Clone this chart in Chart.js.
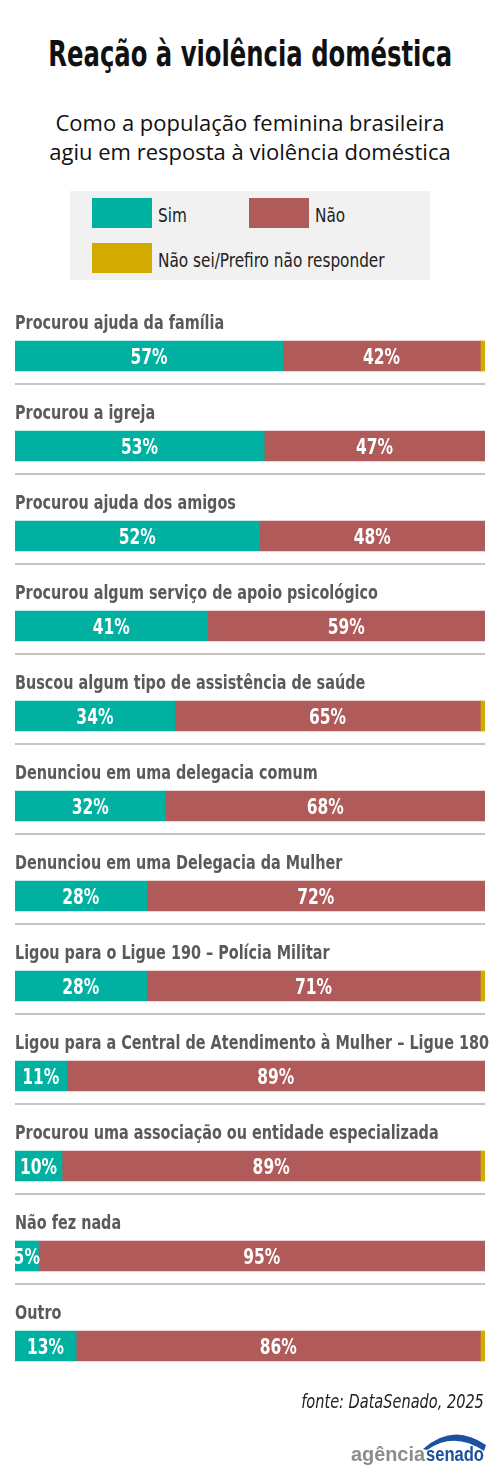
<!DOCTYPE html>
<html>
<head>
<meta charset="utf-8">
<script src="https://cdn.jsdelivr.net/npm/chart.js@4/dist/chart.umd.min.js"></script>
<style>
  html, body { margin: 0; padding: 0; background: #fff; }
  body { width: 500px; height: 1481px; position: relative; overflow: hidden; }
  .cond { font-family: "DejaVu Sans Condensed", sans-serif; white-space: nowrap; }
  .sq { display: inline-block; }
  #title { position: absolute; top: 36px; left: -100px; width: 700px; text-align: center;
    font-size: 36px; line-height: 36px; font-weight: bold; color: #111; }
  #title .sq { transform: scaleX(0.75); transform-origin: center; }
  #subtitle { position: absolute; top: 108px; left: 0; width: 500px; text-align: center;
    font-family: "Open Sans", sans-serif; font-size: 22px; line-height: 29px; color: #111; }
  #legend { position: absolute; top: 191px; left: 70px; width: 360px; height: 89px; background: #f1f1f1; }
  .sw { position: absolute; width: 60px; height: 30px; }
  .lt { position: absolute; font-size: 20px; line-height: 20px; color: #222; transform: scaleX(0.85); transform-origin: left; }
  #wrap { position: absolute; top: 300px; left: 0; width: 500px; height: 1100px; }
  #source { position: absolute; top: 1392px; right: 16px; font-size: 19px; line-height: 19px; font-style: italic; color: #222;
    transform: scaleX(0.85); transform-origin: right; }
  #logo { position: absolute; top: 1430px; left: 340px; width: 150px; height: 40px; }
</style>
</head>
<body>
<div id="title" class="cond"><span class="sq">Reação à violência doméstica</span></div>
<div id="subtitle">Como a população feminina brasileira<br>agiu em resposta à violência doméstica</div>
<div id="legend">
  <div class="sw" style="left:22px;top:7px;background:#00b1a2"></div>
  <div class="lt cond" style="left:88px;top:14px">Sim</div>
  <div class="sw" style="left:179px;top:7px;background:#b05a5a"></div>
  <div class="lt cond" style="left:245px;top:14px">Não</div>
  <div class="sw" style="left:22px;top:52px;background:#d2aa00"></div>
  <div class="lt cond" style="left:88px;top:59px">Não sei/Prefiro não responder</div>
</div>
<div id="wrap"><canvas id="barChart"></canvas></div>
<div id="source" class="cond">fonte: DataSenado, 2025</div>
<svg id="logo" viewBox="0 0 150 40">
  <path d="M83 19 Q113 -8 146 15 L144 21 Q114 1 87 20 Z" fill="#1e50a0"/>
  <text x="11" y="31" font-family="Liberation Sans, sans-serif" font-weight="bold" font-size="21" fill="#8c8c8c"
    textLength="74" lengthAdjust="spacingAndGlyphs">agência</text>
  <text x="86" y="31" font-family="Liberation Sans, sans-serif" font-weight="bold" font-size="21" fill="#1e50a0"
    textLength="58" lengthAdjust="spacingAndGlyphs">senado</text>
</svg>
<script>
const categories = [
  'Procurou ajuda da família',
  'Procurou a igreja',
  'Procurou ajuda dos amigos',
  'Procurou algum serviço de apoio psicológico',
  'Buscou algum tipo de assistência de saúde',
  'Denunciou em uma delegacia comum',
  'Denunciou em uma Delegacia da Mulher',
  'Ligou para o Ligue 190 – Polícia Militar',
  'Ligou para a Central de Atendimento à Mulher – Ligue 180',
  'Procurou uma associação ou entidade especializada',
  'Não fez nada',
  'Outro'
]
const sim = [57, 53, 52, 41, 34, 32, 28, 28, 11, 10, 5, 13]
const nao = [42, 47, 48, 59, 65, 68, 72, 71, 89, 89, 95, 86]
const naoSei = [1, 0, 0, 0, 1, 0, 0, 1, 0, 1, 0, 1]

const condFont = '"DejaVu Sans Condensed", sans-serif'

// squeezed text, the original uses a condensed face we don't have
function squeezeText(ctx, text, x, y, sx) {
  ctx.save()
  ctx.translate(x, y)
  ctx.scale(sx, 1)
  ctx.fillText(text, 0, 0)
  ctx.restore()
}

// category names above the bars, separators below, values inside
const rowLabels = {
  id: 'rowLabels',
  afterDatasetsDraw(chart) {
    const ctx = chart.ctx
    const area = chart.chartArea
    const meta0 = chart.getDatasetMeta(0)
    ctx.save()
    meta0.data.forEach((bar, i) => {
      ctx.fillStyle = '#5a5a5a'
      ctx.font = 'bold 19px ' + condFont
      ctx.textAlign = 'left'
      ctx.textBaseline = 'alphabetic'
      squeezeText(ctx, chart.data.labels[i], area.left, bar.y - 27, 0.843)
      if (i < meta0.data.length - 1) {
        ctx.fillStyle = '#c4c4c4'
        ctx.fillRect(area.left, bar.y + 27, area.right - area.left, 2)
      }
    })
    ctx.fillStyle = '#fff'
    ctx.font = 'bold 21px ' + condFont
    ctx.textAlign = 'center'
    ctx.textBaseline = 'alphabetic'
    for (let d = 0; d < 2; d++) {
      const ds = chart.data.datasets[d]
      chart.getDatasetMeta(d).data.forEach((bar, i) => {
        squeezeText(ctx, ds.data[i] + '%', (bar.x + bar.base) / 2, bar.y + 8, 0.82)
      })
    }
    ctx.restore()
  }
}

let chartobj = document.getElementById('barChart')
let barChart = new Chart(chartobj, {
  type: 'bar',
  data: {
    labels: categories,
    datasets: [{
      label: 'Sim',
      data: sim,
      backgroundColor: '#00b1a2'
    }, {
      label: 'Não',
      data: nao,
      backgroundColor: '#b05a5a'
    }, {
      label: 'Não sei/Prefiro não responder',
      data: naoSei,
      backgroundColor: '#d2aa00'
    }]
  },
  options: {
    indexAxis: 'y',
    responsive: true,
    maintainAspectRatio: false,
    animation: false,
    layout: { padding: { top: 11, bottom: 9, left: 15, right: 15 } },
    datasets: { bar: { barThickness: 30, borderWidth: 0 } },
    scales: {
      x: { stacked: true, min: 0, max: 100, display: false },
      y: { stacked: true, display: false }
    },
    plugins: {
      legend: { display: false },
      tooltip: { enabled: false }
    }
  },
  plugins: [rowLabels]
});
</script>
</body>
</html>
